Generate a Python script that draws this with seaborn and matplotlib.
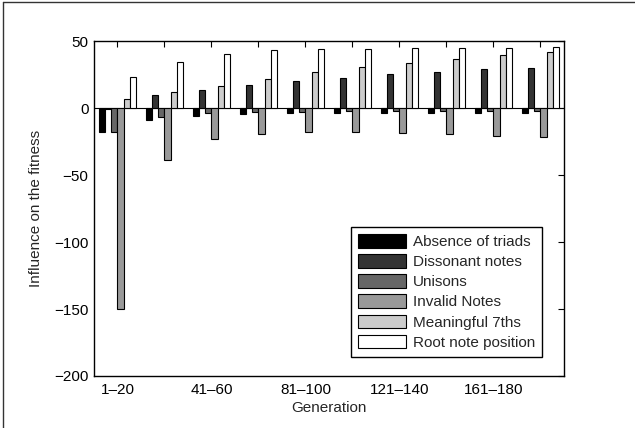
import matplotlib
matplotlib.use("Agg")
import matplotlib.pyplot as plt
from matplotlib.patches import Patch
from matplotlib.lines import Line2D
import seaborn as sns
import pandas as pd

generations = ["1–20", "21–40", "41–60", "61–80", "81–100",
               "101–120", "121–140", "141–160", "161–180", "181–200"]
series_names = ["Absence of triads", "Dissonant notes", "Unisons",
                "Invalid Notes", "Meaningful 7ths", "Root note position"]
absence = [-18, -9.2, -6.2, -4.7, -3.7, -3.7, -4, -4, -3.7, -4]
dissonant = [-0.5, 9.5, 13.8, 17.5, 20, 22.8, 25.3, 26.8, 28.8, 29.8]
unisons = [-17.5, -6.3, -3.7, -3, -2.7, -2.5, -2.5, -2.5, -2.5, -2.5]
invalid = [-150, -39, -23, -19.2, -17.7, -18, -18.5, -19.2, -20.5, -21.3]
sevenths = [7, 11.7, 16.8, 22, 26.7, 30.5, 33.8, 36.8, 39.3, 41.5]
root = [23.3, 34.3, 40.3, 43, 44, 44.3, 44.5, 44.5, 44.8, 45.3]
colors = ["#000000", "#333333", "#666666", "#999999", "#cccccc", "#ffffff"]
shown_ticks = ["1–20", "41–60", "81–100", "121–140", "161–180"]

values = [absence, dissonant, unisons, invalid, sevenths, root]
rows = []
for name, vals in zip(series_names, values):
    for g, v in zip(generations, vals):
        rows.append({"Generation": g, "Series": name, "Value": v})
df = pd.DataFrame(rows)

sns.set_style("white")
plt.rcParams["font.family"] = ["Liberation Sans", "DejaVu Sans"]
plt.rcParams["font.size"] = 11

fig = plt.figure(figsize=(6.35, 4.28), dpi=100)
ax = fig.add_axes([0.148, 0.1215, 0.740, 0.7825])

sns.barplot(data=df, x="Generation", y="Value", hue="Series",
            order=generations, hue_order=series_names,
            palette=colors, width=0.8, edgecolor="black", linewidth=0.8,
            saturation=1, errorbar=None, legend=False, ax=ax)

ax.axhline(0, color="black", lw=0.8, zorder=0.5)
ax.set_xlim(-0.5, 9.5)
ax.set_ylim(-200, 50)
ax.set_yticks([-200, -150, -100, -50, 0, 50])
ax.set_yticklabels(["−200", "−150", "−100", "−50", "0", "50"])
ax.set_xticks(range(len(generations)))
ax.set_xticklabels([g if g in shown_ticks else "" for g in generations])
ax.tick_params(direction="in", top=True, right=True, length=4, width=0.8,
               labelsize=11, colors="black")
ax.tick_params(axis="y", pad=4)
ax.tick_params(axis="x", pad=5)
for s in ax.spines.values():
    s.set_color("black")
    s.set_linewidth(1.0)

ax.set_xlabel("Generation", fontsize=11, labelpad=3)
ax.set_ylabel("Influence on the fitness", fontsize=11, labelpad=8)

handles = [Patch(facecolor=c, edgecolor="black", linewidth=0.8) for c in colors]
leg = ax.legend(handles, series_names, loc="lower right",
                bbox_to_anchor=(0.954, 0.058), borderaxespad=0,
                fancybox=False, framealpha=1, edgecolor="black",
                handlelength=3.1, handleheight=1.0, labelspacing=0.33,
                handletextpad=0.5, borderpad=0.45, fontsize=11)
leg.get_frame().set_linewidth(1.0)

fig.add_artist(Line2D([0.005, 0.005], [0, 0.995], transform=fig.transFigure,
                      color="#333333", lw=1))
fig.add_artist(Line2D([0.005, 1.0], [0.995, 0.995], transform=fig.transFigure,
                      color="#333333", lw=1))

fig.savefig("out.png", dpi=100)
